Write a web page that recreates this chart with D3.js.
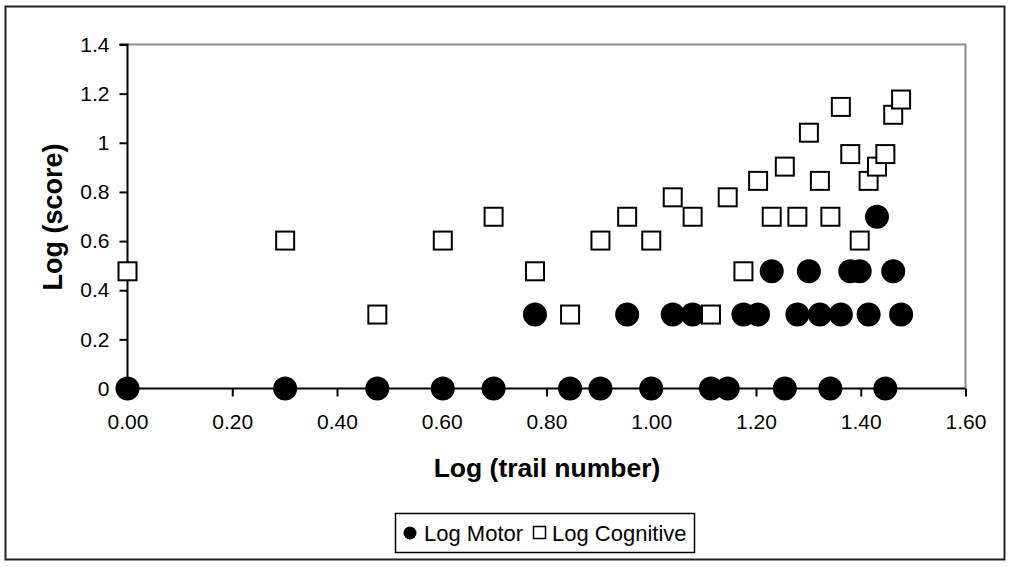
<!DOCTYPE html>
<html>
<head>
<meta charset="utf-8">
<script src="https://cdn.jsdelivr.net/npm/d3@7"></script>
<style>
  html, body { margin: 0; padding: 0; background: #fff; }
  svg { display: block; font-family: "Liberation Sans", Arial, Helvetica, sans-serif; }
</style>
</head>
<body>
<svg id="chart" width="1010" height="567"></svg>
<script>
// ---- data ----
const logTrail = [0.000, 0.301, 0.477, 0.602, 0.699, 0.778, 0.845, 0.903, 0.954, 1.000,
                  1.041, 1.079, 1.114, 1.146, 1.176, 1.204, 1.230, 1.255, 1.279, 1.301,
                  1.322, 1.342, 1.362, 1.380, 1.398, 1.415, 1.431, 1.447, 1.462, 1.477];
const logMotor = [0, 0, 0, 0, 0, 0.301, 0, 0, 0.301, 0,
                  0.301, 0.301, 0, 0, 0.301, 0.301, 0.477, 0, 0.301, 0.477,
                  0.301, 0, 0.301, 0.477, 0.477, 0.301, 0.699, 0, 0.477, 0.301];
const logCognitive = [0.477, 0.602, 0.301, 0.602, 0.699, 0.477, 0.301, 0.602, 0.699, 0.602,
                      0.778, 0.699, 0.301, 0.778, 0.477, 0.845, 0.699, 0.903, 0.699, 1.041,
                      0.845, 0.699, 1.146, 0.954, 0.602, 0.845, 0.903, 0.954, 1.114, 1.176];
const seriesNames = ["Log Motor", "Log Cognitive"];
const xTicks = [0, 0.2, 0.4, 0.6, 0.8, 1.0, 1.2, 1.4, 1.6];
const xTickLabels = ["0.00", "0.20", "0.40", "0.60", "0.80", "1.00", "1.20", "1.40", "1.60"];
const yTicks = [0, 0.2, 0.4, 0.6, 0.8, 1.0, 1.2, 1.4];
const yTickLabels = ["0", "0.2", "0.4", "0.6", "0.8", "1", "1.2", "1.4"];
const xTitle = "Log (trail number)";
const yTitle = "Log (score)";

// ---- layout ----
const svg = d3.select("#chart");
const L = 127.5, R = 965.5, T = 44.5, B = 388.5;
const x = d3.scaleLinear().domain([0, 1.6]).range([L, R]);
const y = d3.scaleLinear().domain([0, 1.4]).range([B, T]);

// outer border
svg.append("rect").attr("x", 5.5).attr("y", 6.5).attr("width", 999).attr("height", 553)
  .attr("fill", "#fff").attr("stroke", "#222").attr("stroke-width", 2);

// plot frame (top/right in grey)
svg.append("path")
  .attr("d", `M${L},${T}H${R}V${B}`)
  .attr("fill", "none").attr("stroke", "#8c8c8c").attr("stroke-width", 2);

// axes
const yAxis = d3.axisLeft(y).tickValues(yTicks)
  .tickFormat((d, i) => yTickLabels[i]).tickSize(8).tickPadding(10);
const gy = svg.append("g").attr("transform", `translate(${L},0)`).call(yAxis);

const xAxis = d3.axisBottom(x).tickValues(xTicks)
  .tickFormat((d, i) => xTickLabels[i]).tickSize(8).tickPadding(18);
const gx = svg.append("g").attr("transform", `translate(0,${B})`).call(xAxis);

[gx, gy].forEach(g => {
  g.select(".domain").attr("stroke", "#000").attr("stroke-width", 2);
  g.selectAll(".tick line").attr("stroke", "#000").attr("stroke-width", 2);
  g.selectAll(".tick text").attr("fill", "#000").style("font-size", "21px")
    .style("font-family", "'Liberation Sans', Arial, sans-serif");
});
gy.select(".domain").attr("d", `M-8,${T}H0V${B}`);
gx.select(".domain").attr("d", `M${L},0H${R}`);

// axis titles
svg.append("text").attr("x", 547).attr("y", 477)
  .attr("text-anchor", "middle").attr("font-weight", "bold").attr("font-size", 26.5)
  .text(xTitle);
svg.append("text").attr("transform", "translate(62,217) rotate(-90)")
  .attr("text-anchor", "middle").attr("font-weight", "bold").attr("font-size", 27)
  .text(yTitle);

// series
const motorPts = logTrail.map((t, i) => ({ x: t, y: logMotor[i] }));
const cogPts = logTrail.map((t, i) => ({ x: t, y: logCognitive[i] }));

svg.append("g").selectAll("circle").data(motorPts).join("circle")
  .attr("cx", d => x(d.x)).attr("cy", d => y(d.y)).attr("r", 12)
  .attr("fill", "#000");

const sq = 18;
svg.append("g").selectAll("rect").data(cogPts).join("rect")
  .attr("x", d => x(d.x) - sq / 2).attr("y", d => y(d.y) - sq / 2)
  .attr("width", sq).attr("height", sq)
  .attr("fill", "#fff").attr("stroke", "#000").attr("stroke-width", 2);

// legend
const lg = svg.append("g");
lg.append("rect").attr("x", 395.5).attr("y", 513.5).attr("width", 299).attr("height", 39)
  .attr("fill", "#fff").attr("stroke", "#000").attr("stroke-width", 1.5);
lg.append("circle").attr("cx", 410).attr("cy", 533).attr("r", 6.5).attr("fill", "#000");
lg.append("text").attr("x", 424).attr("y", 541).attr("font-size", 22).attr("fill", "#000")
  .text(seriesNames[0]);
lg.append("rect").attr("x", 533.5).attr("y", 526.5).attr("width", 12).attr("height", 12)
  .attr("fill", "#fff").attr("stroke", "#000").attr("stroke-width", 1.5);
lg.append("text").attr("x", 552).attr("y", 541).attr("font-size", 22).attr("fill", "#000")
  .text(seriesNames[1]);
</script>
</body>
</html>
